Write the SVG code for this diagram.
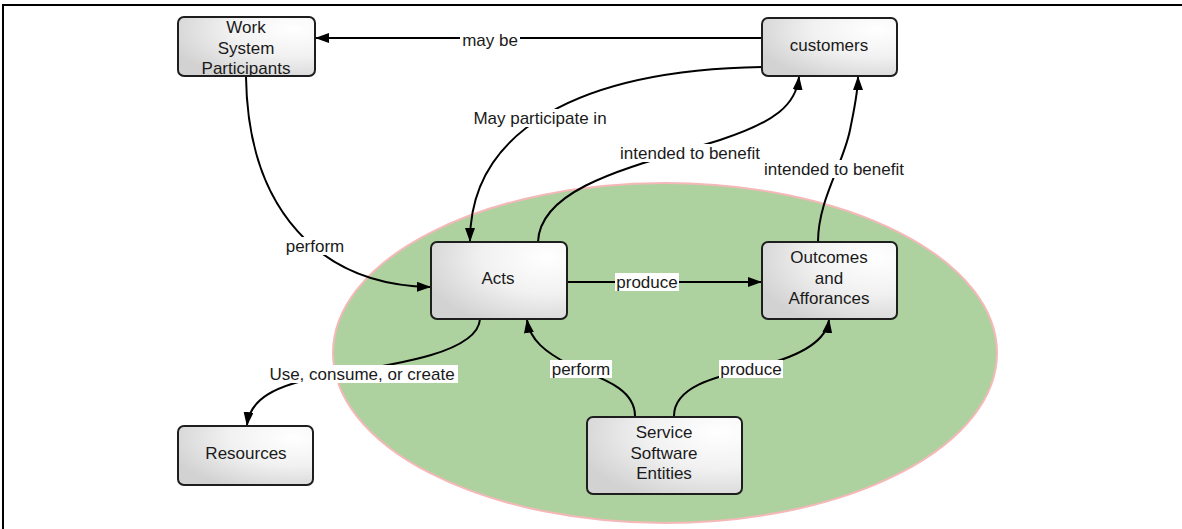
<svg xmlns="http://www.w3.org/2000/svg" width="1182" height="529" viewBox="0 0 1182 529">
  <style>
    .node rect { fill: url(#boxFill); stroke: #1e1e1e; stroke-width: 2; }
    text { font-family: "Liberation Sans", Arial, sans-serif; font-size: 17px; fill: #1a1a1a; text-anchor: middle; }
    .edge { fill: none; stroke: #000; stroke-width: 2; marker-end: url(#arrow); }
    .lbl rect { fill: #fff; }
  </style>
  <defs>
    <radialGradient id="boxFill" cx="0.85" cy="0.2" r="0.95">
      <stop offset="0" stop-color="#ffffff"/>
      <stop offset="0.5" stop-color="#f1f1f1"/>
      <stop offset="1" stop-color="#d2d2d2"/>
    </radialGradient>
    <marker id="arrow" viewBox="0 0 14 10" refX="13" refY="5" markerWidth="14" markerHeight="10" markerUnits="userSpaceOnUse" orient="auto">
      <path d="M0,0 L14,5 L0,10 Z" fill="#000"/>
    </marker>
  </defs>

  <rect width="1182" height="529" fill="#fff"/>
  <!-- frame -->
  <path d="M3,529 V5 H1182" fill="none" stroke="#000" stroke-width="2"/>

  <!-- service boundary -->
  <ellipse cx="665" cy="353" rx="332" ry="170" fill="#aed29f" stroke="#f5b8b8" stroke-width="2"/>

  <g id="connectors">
    <path class="edge" d="M762,38 H316"/>
    <path class="edge" d="M762,67 C580,70 470,130 470,241"/>
    <path class="edge" d="M538,242 C540,185 640,165 720,140 C775,122 796,105 799,77"/>
    <path class="edge" d="M818,242 C818,200 843,165 850,130 C855,105 858,92 858,77"/>
    <path class="edge" d="M246,77 C248,210 320,285 430,287"/>
    <path class="edge" d="M567,282 H761"/>
    <path class="edge" d="M480,319 C478,352 400,364 330,375 C272,385 250,400 247,425"/>
    <path class="edge" d="M635,416 C635,385 592,376 570,365 C545,352 530,340 527,320"/>
    <path class="edge" d="M674,416 C674,385 720,376 760,366 C800,356 826,342 829,320"/>

    <g class="lbl">
      <rect x="460" y="31" width="60" height="18"/>
      <text x="490" y="46">may be</text>
      <rect x="470" y="109" width="140" height="18"/>
      <text x="540" y="124">May participate in</text>
      <rect x="617" y="144" width="146" height="18"/>
      <text x="690" y="159">intended to benefit</text>
      <rect x="761" y="160" width="146" height="18"/>
      <text x="834" y="175">intended to benefit</text>
      <rect x="284" y="237" width="62" height="18"/>
      <text x="315" y="252">perform</text>
      <rect x="615" y="273" width="64" height="18"/>
      <text x="647" y="288">produce</text>
      <rect x="267" y="365" width="191" height="18"/>
      <text x="362" y="380">Use, consume, or create</text>
      <rect x="550" y="360" width="62" height="18"/>
      <text x="581" y="375">perform</text>
      <rect x="719" y="360" width="64" height="18"/>
      <text x="751" y="375">produce</text>
    </g>
  </g>

  <g id="work-system-participants" class="node">
    <rect x="178" y="17" width="137" height="59" rx="6"/>
    <text x="246" y="33">Work</text>
    <text x="246" y="53.5">System</text>
    <text x="246" y="74">Participants</text>
  </g>
  <g id="customers" class="node">
    <rect x="762" y="18" width="135" height="58" rx="6"/>
    <text x="829" y="51">customers</text>
  </g>
  <g id="acts" class="node">
    <rect x="431" y="242" width="136" height="77" rx="6"/>
    <text x="498" y="284">Acts</text>
  </g>
  <g id="outcomes-and-afforances" class="node">
    <rect x="762" y="242" width="135" height="77" rx="6"/>
    <text x="829" y="263">Outcomes</text>
    <text x="829" y="283.5">and</text>
    <text x="829" y="304">Afforances</text>
  </g>
  <g id="service-software-entities" class="node">
    <rect x="587" y="417" width="155" height="77" rx="6"/>
    <text x="664" y="438">Service</text>
    <text x="664" y="458.5">Software</text>
    <text x="664" y="479">Entities</text>
  </g>
  <g id="resources" class="node">
    <rect x="178" y="426" width="135" height="59" rx="6"/>
    <text x="246" y="459">Resources</text>
  </g>
</svg>
